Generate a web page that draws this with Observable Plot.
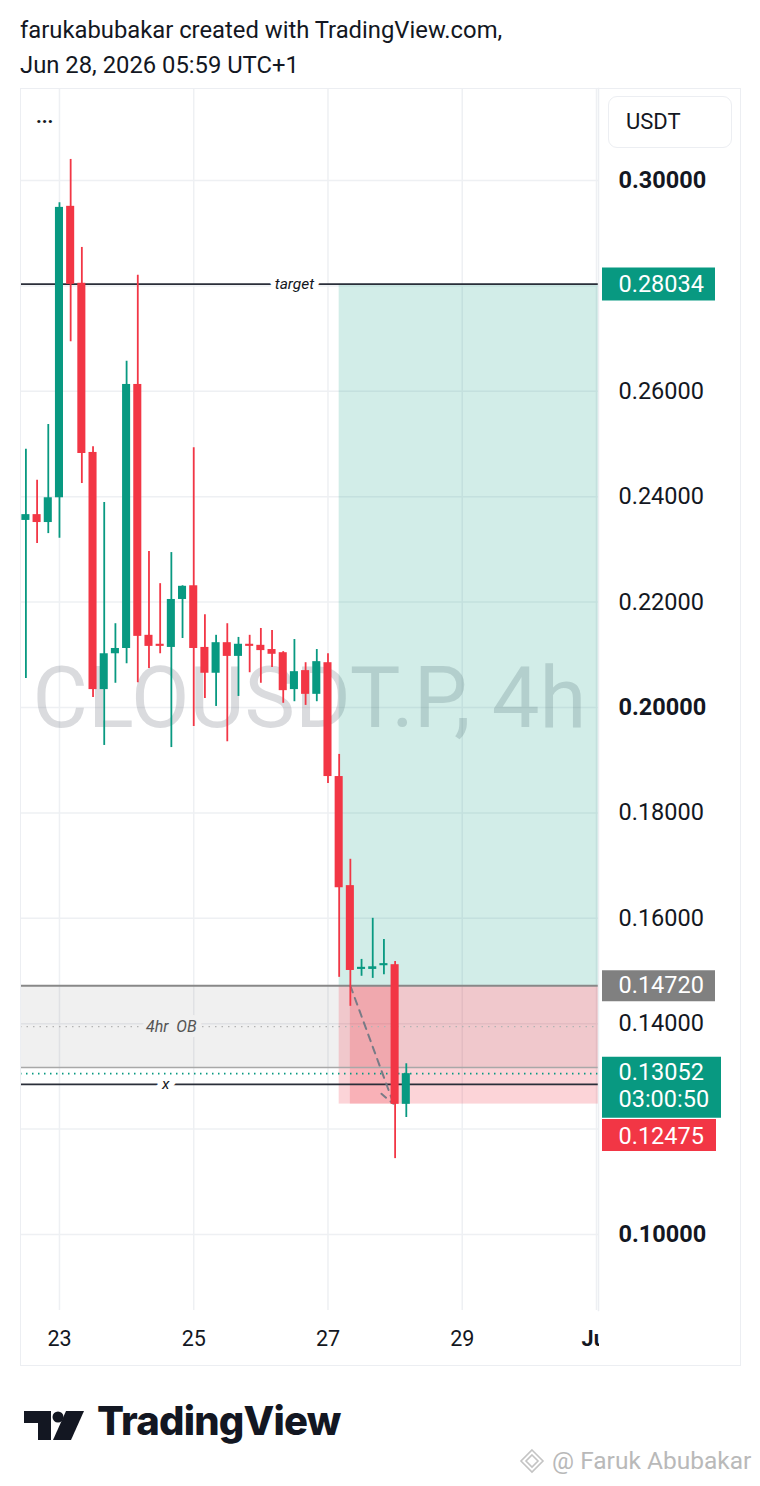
<!DOCTYPE html>
<html><head><meta charset="utf-8">
<script src="https://cdn.jsdelivr.net/npm/d3@7"></script>
<script src="https://cdn.jsdelivr.net/npm/@observablehq/plot@0.6"></script>
<style>
body{margin:0;background:#fff;font-family:Roboto,"Noto Sans",sans-serif;color:#131722;}
#page{position:relative;width:760px;height:1486px;overflow:hidden;background:#fff;}
#hdr{position:absolute;left:20px;top:13px;font-size:23.8px;line-height:35px;color:#131722;white-space:nowrap;}
#chart{position:absolute;left:0;top:88px;}
#corner{position:absolute;left:599px;top:1311px;width:141px;height:54px;background:#fff;}
#frame{position:absolute;left:20px;top:88px;width:721px;height:1278px;box-sizing:border-box;border:1.5px solid #eceef2;pointer-events:none;}
#usdt{position:absolute;left:608px;top:96px;width:124px;height:52px;box-sizing:border-box;border:1.5px solid #eceef2;border-radius:9px;font-size:22px;line-height:49px;padding-left:17px;color:#131722;background:#fff;}
#dots{position:absolute;left:36px;top:104px;font-size:20px;font-weight:bold;color:#131722;}
#logo{position:absolute;left:24px;top:1398px;height:56px;}
#logotext{position:absolute;left:97px;top:1396px;font-family:Inter,Roboto,sans-serif;font-weight:800;font-size:40px;letter-spacing:-0.8px;color:#131722;}
#wm{position:absolute;left:518px;top:1446px;font-size:24.5px;color:#b9b9b9;white-space:nowrap;}
</style></head><body><div id="page">
<div id="hdr">farukabubakar created with TradingView.com,<br>Jun 28, 2026 05:59 UTC+1</div>
<div id="chart"></div>
<div id="corner"></div>
<div id="frame"></div>
<div id="usdt">USDT</div>
<div id="dots">...</div>
<svg id="logo" width="64" height="56" viewBox="0 0 64 56"><path d="M0,13 H27 V42 H14 V25 H0 Z" fill="#131722"/><circle cx="34" cy="19" r="5.5" fill="#131722"/><path d="M42,13 H60 L47,42 H29 Z" fill="#131722"/></svg>
<div id="logotext">TradingView</div>
<div id="wm"><svg width="28" height="26" viewBox="0 0 28 26" style="vertical-align:-5px"><path d="M14,2 L25,13 L14,24 L3,13 Z M14,7 L20,13 L14,19 L8,13 Z" fill="none" stroke="#c4c4c4" stroke-width="1.6"/></svg> @ Faruk Abubakar</div>
</div>
<script>
// ---- data ----
const symbolName = "CLOUSDT.P, 4h";
const candleTimes = [
 "2026-06-22T12:00Z","2026-06-22T16:00Z","2026-06-22T20:00Z",
 "2026-06-23T00:00Z","2026-06-23T04:00Z","2026-06-23T08:00Z","2026-06-23T12:00Z","2026-06-23T16:00Z","2026-06-23T20:00Z",
 "2026-06-24T00:00Z","2026-06-24T04:00Z","2026-06-24T08:00Z","2026-06-24T12:00Z","2026-06-24T16:00Z","2026-06-24T20:00Z",
 "2026-06-25T00:00Z","2026-06-25T04:00Z","2026-06-25T08:00Z","2026-06-25T12:00Z","2026-06-25T16:00Z","2026-06-25T20:00Z",
 "2026-06-26T00:00Z","2026-06-26T04:00Z","2026-06-26T08:00Z","2026-06-26T12:00Z","2026-06-26T16:00Z","2026-06-26T20:00Z",
 "2026-06-27T00:00Z","2026-06-27T04:00Z","2026-06-27T08:00Z","2026-06-27T12:00Z","2026-06-27T16:00Z","2026-06-27T20:00Z",
 "2026-06-28T00:00Z","2026-06-28T04:00Z"];
const opens  = [0.2355,0.2366,0.2351, 0.2398,0.2951,0.2805,0.2484,0.2034,0.2102, 0.2112,0.2613,0.2137,0.2120,0.2114,0.2205, 0.2231,0.2114,0.2065,0.2123,0.2097,0.2120, 0.2118,0.2110,0.2104,0.2034,0.2070,0.2025, 0.2085,0.1869,0.1662,0.1503,0.1503,0.1510, 0.1512,0.1247];
const highs  = [0.2490,0.2431,0.2537, 0.2958,0.3040,0.2873,0.2495,0.2389,0.2159, 0.2657,0.2820,0.2296,0.2235,0.2294,0.2231, 0.2493,0.2176,0.2137,0.2159,0.2133,0.2137, 0.2150,0.2146,0.2106,0.2129,0.2085,0.2110, 0.2102,0.1911,0.1712,0.1522,0.1600,0.1560, 0.1518,0.1324];
const lows   = [0.2055,0.2311,0.2330, 0.2321,0.2694,0.2425,0.2019,0.1928,0.2046, 0.2083,0.2047,0.2074,0.2102,0.1924,0.2131, 0.1964,0.2017,0.2002,0.1935,0.2021,0.2066, 0.2046,0.2076,0.2008,0.2011,0.2004,0.2011, 0.1856,0.1488,0.1433,0.1490,0.1486,0.1493, 0.1144,0.1222];
const closes = [0.2366,0.2351,0.2398, 0.2949,0.2803,0.2482,0.2034,0.2102,0.2112, 0.2613,0.2135,0.2116,0.2116,0.2205,0.2230, 0.2112,0.2065,0.2123,0.2097,0.2120,0.2116, 0.2108,0.2101,0.2032,0.2068,0.2025,0.2087, 0.1869,0.1658,0.1501,0.1507,0.1508,0.1514, 0.1247,0.13052];

const priceTicks = [0.10,0.12,0.14,0.16,0.18,0.20,0.22,0.24,0.26,0.28,0.30];
const priceLabelTicks = [0.14,0.16,0.18,0.22,0.24,0.26];   // 0.12 and 0.28 sit under the level labels
const boldTicks = [0.10,0.20,0.30];
const dayTicks = ["2026-06-23T00:00Z","2026-06-25T00:00Z","2026-06-27T00:00Z","2026-06-29T00:00Z","2026-07-01T00:00Z"];
const dayLabels = ["23","25","27","29","Jul"];

const targetPrice = 0.28034, entryPrice = 0.14720, stopPrice = 0.12475, lastPrice = 0.13052;
const countdown = "03:00:50";
const obTop = 0.1472, obBottom = 0.1317;
const xLinePrice = 0.1285;
const posStart = "2026-06-27T04:00Z", moveStart = "2026-06-27T08:00Z", moveEnd = "2026-06-28T00:00Z", arrowEnd = "2026-06-27T23:30Z";
const targetLabelTime = "2026-06-26T12:00Z", xLabelTime = "2026-06-24T14:00Z", obLabelTime = "2026-06-24T16:00Z";

const xDomain = [new Date("2026-06-22T10:04Z"), new Date("2026-07-01T00:43Z")];
const yDomain = [0.08558, 0.31746];

// ---- build ----
const UP = "#089981", DOWN = "#f23645";
const candles = candleTimes.map((t, i) => ({t: new Date(t), o: opens[i], h: highs[i], l: lows[i], c: closes[i]}));
const up = candles.filter(d => d.c >= d.o), down = candles.filter(d => d.c < d.o);
const half = 0.36 * 4 * 3600e3;
const bx1 = d => new Date(+d.t - half), bx2 = d => new Date(+d.t + half);
const fmt = d3.format(".5f");
const D = s => new Date(s);
const FS = 23.5;

const marks = [
  Plot.ruleY(priceTicks, {stroke: "#eef0f3", strokeWidth: 1.5}),
  Plot.ruleX(dayTicks.map(D), {stroke: "#eef0f3", strokeWidth: 1.5}),
  Plot.text([symbolName], {frameAnchor: "middle", text: d => d, fontSize: 85, fill: "#787b86", fillOpacity: 0.27}),
  // order block zone
  Plot.rect([{x1: xDomain[0], x2: xDomain[1], y1: obBottom, y2: obTop}], {x1: "x1", x2: "x2", y1: "y1", y2: "y2", fill: "#000", fillOpacity: 0.06}),
  // position tool
  Plot.rect([{x1: D(posStart), x2: xDomain[1], y1: entryPrice, y2: targetPrice}], {x1: "x1", x2: "x2", y1: "y1", y2: "y2", fill: UP, fillOpacity: 0.18}),
  Plot.rect([{x1: D(posStart), x2: xDomain[1], y1: stopPrice, y2: entryPrice}], {x1: "x1", x2: "x2", y1: "y1", y2: "y2", fill: DOWN, fillOpacity: 0.21}),
  Plot.rect([{x1: D(moveStart), x2: D(moveEnd), y1: stopPrice, y2: entryPrice}], {x1: "x1", x2: "x2", y1: "y1", y2: "y2", fill: DOWN, fillOpacity: 0.22}),
  Plot.ruleY([(obTop + obBottom) / 2], {stroke: "#b3b3b3", strokeWidth: 1.3, strokeDasharray: "1.5,5"}),
  Plot.ruleY([obBottom], {stroke: "#a8a8a8", strokeWidth: 1.5}),
  Plot.ruleY([obTop], {stroke: "#888888", strokeWidth: 2.2}),
  Plot.ruleY([targetPrice], {stroke: "#2a2e39", strokeWidth: 1.8}),
  Plot.ruleY([xLinePrice], {stroke: "#2a2e39", strokeWidth: 1.8}),
  Plot.ruleY([lastPrice], {stroke: UP, strokeWidth: 1.8, strokeDasharray: "1.5,4.5"}),
  Plot.text([{t: D(targetLabelTime), p: targetPrice}], {x: "t", y: "p", text: () => "target", fontStyle: "italic", fontSize: 15.5, fill: "#131722", stroke: "#fff", strokeWidth: 10}),
  Plot.text([{t: D(xLabelTime), p: xLinePrice}], {x: "t", y: "p", text: () => "x", fontStyle: "italic", fontSize: 15.5, fill: "#131722", stroke: "#fff", strokeWidth: 12}),
  Plot.text([{t: D(obLabelTime), p: (obTop + obBottom) / 2}], {x: "t", y: "p", text: () => "4hr  OB", fontStyle: "italic", fontSize: 16, fill: "#555", stroke: "#f0f0f0", strokeWidth: 10}),
  Plot.arrow([{x1: D(moveStart), y1: entryPrice, x2: D(arrowEnd), y2: stopPrice}], {x1: "x1", y1: "y1", x2: "x2", y2: "y2", stroke: "#787b86", strokeWidth: 2, strokeDasharray: "7,6", headLength: 12}),
  // candles
  Plot.ruleX(up, {x: "t", y1: "l", y2: "h", stroke: UP, strokeWidth: 1.8}),
  Plot.ruleX(down, {x: "t", y1: "l", y2: "h", stroke: DOWN, strokeWidth: 1.8}),
  Plot.rect(up, {x1: bx1, x2: bx2, y1: "o", y2: "c", fill: UP}),
  Plot.rect(down, {x1: bx1, x2: bx2, y1: "o", y2: "c", fill: DOWN}),
  // price axis separator
  Plot.frame({anchor: "right", stroke: "#eceef2", strokeWidth: 1.5}),
  // price axis labels
  Plot.text(priceLabelTicks, {y: d => d, text: d => fmt(d), frameAnchor: "right", dx: 20, textAnchor: "start", fontSize: FS, fill: "#131722"}),
  Plot.text(boldTicks, {y: d => d, text: d => fmt(d), frameAnchor: "right", dx: 20, textAnchor: "start", fontSize: FS, fontWeight: "bold", fill: "#131722"}),
  // time axis labels
  Plot.text(dayTicks.slice(0, 4), {x: d => D(d), text: (d, i) => dayLabels[i], frameAnchor: "bottom", dy: 35, fontSize: 21.5, fill: "#131722"}),
  Plot.text(dayTicks.slice(4), {x: d => D(d), text: (d, i) => dayLabels[i + 4], frameAnchor: "bottom", dy: 35, fontSize: 21.5, fontWeight: "bold", fill: "#131722"}),
  // price labels
  Plot.ruleY([targetPrice], {stroke: UP, strokeWidth: 33, insetLeft: 582, insetRight: -117}),
  Plot.text([targetPrice], {y: d => d, text: d => fmt(d), frameAnchor: "right", dx: 20, textAnchor: "start", fontSize: FS, fill: "#fff"}),
  Plot.ruleY([entryPrice], {stroke: "#808080", strokeWidth: 31, insetLeft: 582, insetRight: -117}),
  Plot.text([entryPrice], {y: d => d, text: d => fmt(d), frameAnchor: "right", dx: 20, textAnchor: "start", fontSize: FS, fill: "#fff"}),
  Plot.ruleY([lastPrice], {stroke: UP, strokeWidth: 61, dy: 13.5, insetLeft: 582, insetRight: -123}),
  Plot.text([lastPrice], {y: d => d, text: d => fmt(d), frameAnchor: "right", dx: 20, dy: -1, textAnchor: "start", fontSize: FS, fill: "#fff"}),
  Plot.text([lastPrice], {y: d => d, text: () => countdown, frameAnchor: "right", dx: 20, dy: 26, textAnchor: "start", fontSize: FS, fill: "#fff"}),
  Plot.ruleY([stopPrice], {stroke: DOWN, strokeWidth: 32, dy: 31, insetLeft: 582, insetRight: -118}),
  Plot.text([stopPrice], {y: d => d, text: d => fmt(d), frameAnchor: "right", dx: 20, dy: 32, textAnchor: "start", fontSize: FS, fill: "#fff"})
];

const chart = Plot.plot({
  width: 760, height: 1277,
  marginLeft: 20, marginRight: 162, marginTop: 0, marginBottom: 55,
  x: {type: "utc", domain: xDomain, axis: null},
  y: {domain: yDomain, axis: null},
  style: {fontFamily: "Roboto, 'Noto Sans', sans-serif", background: "transparent", overflow: "visible", color: "#131722"},
  marks
});
document.getElementById("chart").appendChild(chart);
</script>
</body></html>
